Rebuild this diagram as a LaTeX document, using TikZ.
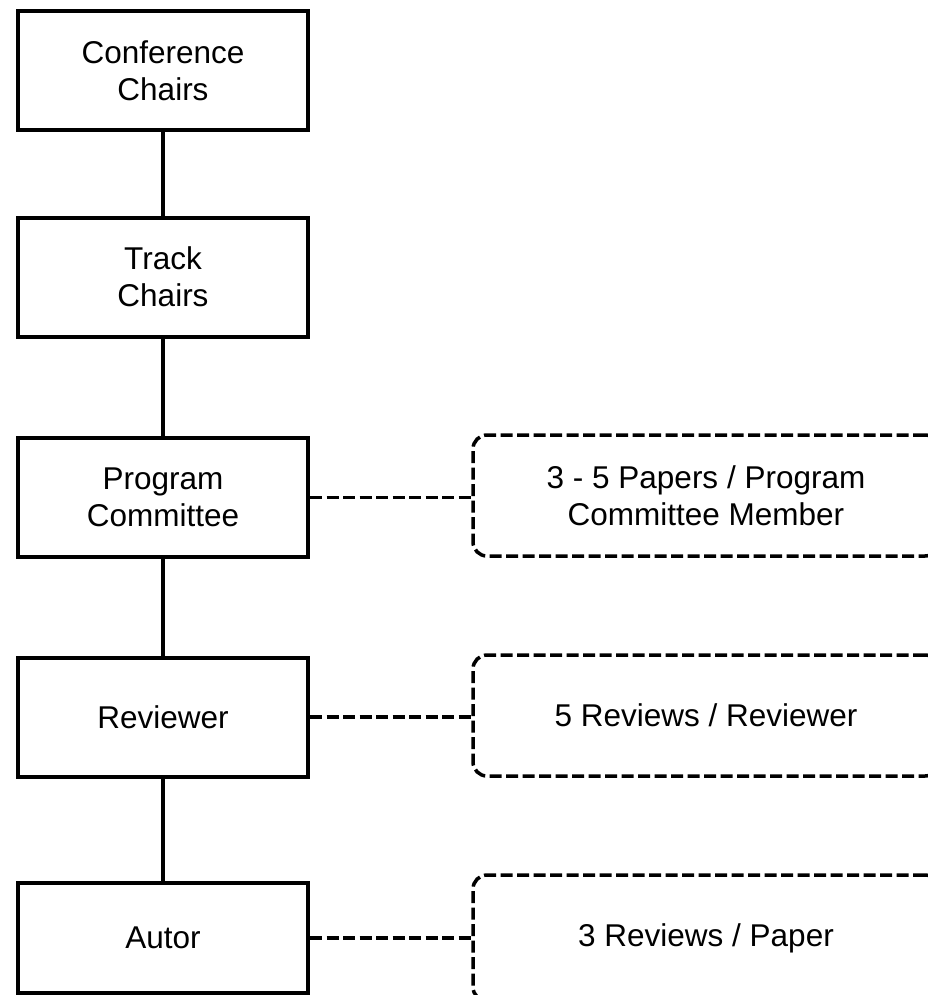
\documentclass[tikz,border=0pt]{standalone}
\usepackage{fontspec}
\setmainfont{Liberation Sans}
\begin{document}
\begin{tikzpicture}[x=1pt,y=-1pt,
  lbl/.style={font=\fontsize{31.5}{37}\selectfont, align=center},
  rolebox/.style={lbl, draw, line width=4pt, minimum width=290pt, minimum height=119pt, inner sep=0pt},
  notebox/.style={lbl, draw, line width=3.5pt, dash pattern=on 12pt off 4.5pt, rounded corners=14pt, minimum width=466pt, minimum height=121pt, inner sep=0pt},
  solidlink/.style={line width=4pt},
  dashlink/.style={line width=3.5pt, dash pattern=on 12pt off 4.5pt}]
\useasboundingbox (0,0) rectangle (927,995);
\node[rolebox] (cc) at (163,70.5) {Conference\\Chairs};
\node[rolebox] (tc) at (163,277) {Track\\Chairs};
\node[rolebox] (pc) at (163,497.5) {Program\\Committee};
\node[rolebox] (rv) at (163,717) {Reviewer};
\node[rolebox, minimum height=110pt] (au) at (163,938) {Autor};
\node[notebox] (n1) at (706,495.5) {3 - 5 Papers / Program\\Committee Member};
\node[notebox] (n2) at (706,715.5) {5 Reviews / Reviewer};
\node[notebox, minimum height=126pt] (n3) at (706,938) {3 Reviews / Paper};
\draw[solidlink] (cc) -- (tc);
\draw[solidlink] (tc) -- (pc);
\draw[solidlink] (pc) -- (rv);
\draw[solidlink] (rv) -- (au);
\draw[dashlink] (pc.east) -- (pc.east -| n1.west);
\draw[dashlink] (rv.east) -- (rv.east -| n2.west);
\draw[dashlink] (au.east) -- (au.east -| n3.west);
\end{tikzpicture}
\end{document}
